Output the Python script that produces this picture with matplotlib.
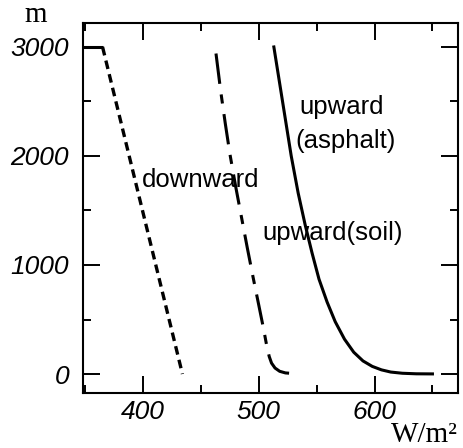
import matplotlib.pyplot as plt

# Downward flux (dashed)
down_w = [348, 365, 434]
down_h = [3000, 3000, 0]

# Upward flux over soil (long-short dash)
soil_w = [463, 467, 471, 475, 480, 485, 490, 495, 500, 504, 507, 509, 511, 514, 518, 523, 528, 534]
soil_h = [2940, 2600, 2300, 2020, 1720, 1440, 1160, 890, 630, 420, 250, 160, 100, 55, 25, 10, 6, 6]

# Upward flux over asphalt (solid)
asph_w = [513, 516, 519, 522, 525, 528, 534, 540, 546, 552, 559, 566, 574, 582,
          590, 598, 606, 614, 624, 636, 650]
asph_h = [3000, 2800, 2600, 2400, 2200, 2000, 1660, 1370, 1110, 870, 660, 480, 320, 200,
          120, 70, 38, 18, 7, 2, 1]

xticks = [400, 500, 600]
yticks = [0, 1000, 2000, 3000]

plt.rcParams['font.family'] = ['Liberation Sans', 'DejaVu Sans']

fig = plt.figure(figsize=(4.63, 4.48), dpi=100)
ax = fig.add_axes([0.179, 0.1228, 0.81, 0.8259])

ax.plot(down_w[:2], down_h[:2], color='black', lw=2.2, solid_capstyle='butt')
ax.plot(down_w[1:], down_h[1:], color='black', lw=2.4, dashes=(2.6, 1.6))
ax.plot(soil_w, soil_h, color='black', lw=2.2, dashes=(10, 3.5, 3, 3.5))
ax.plot(asph_w, asph_h, color='black', lw=2.2)

ax.text(399, 1716, 'downward', fontsize=18.5, va='baseline')
ax.text(535, 2385, 'upward', fontsize=18.5, va='baseline')
ax.text(531.6, 2073, '(asphalt)', fontsize=18.5, va='baseline')
ax.text(503, 1230, 'upward(soil)', fontsize=18.5, va='baseline')

ax.set_xlim(348, 672)
ax.set_ylim(-174, 3220)
ax.set_xticks(xticks)
ax.set_xticks([350, 450, 550, 650], minor=True)
ax.set_yticks(yticks)
ax.set_yticks([500, 1500, 2500], minor=True)
ax.set_xticklabels([str(v) for v in xticks], fontstyle='italic', fontsize=19)
ax.set_yticklabels([str(v) for v in yticks], fontstyle='italic', fontsize=19)
ax.tick_params(which='both', direction='in', top=True, right=True, width=1.4)
ax.tick_params(which='major', length=12)
ax.tick_params(which='minor', length=5.5)
ax.tick_params(axis='y', pad=10)
ax.tick_params(axis='x', pad=5)
for s in ax.spines.values():
    s.set_linewidth(1.5)

fig.text(36 / 463, 1 - 22 / 448, 'm', family='Liberation Serif', fontsize=21,
         ha='center', va='baseline')
fig.text(458 / 463, 1 - 442 / 448, 'W/m²', family='Liberation Serif', fontsize=21,
         ha='right', va='baseline')

plt.savefig('out.png', dpi=100)
